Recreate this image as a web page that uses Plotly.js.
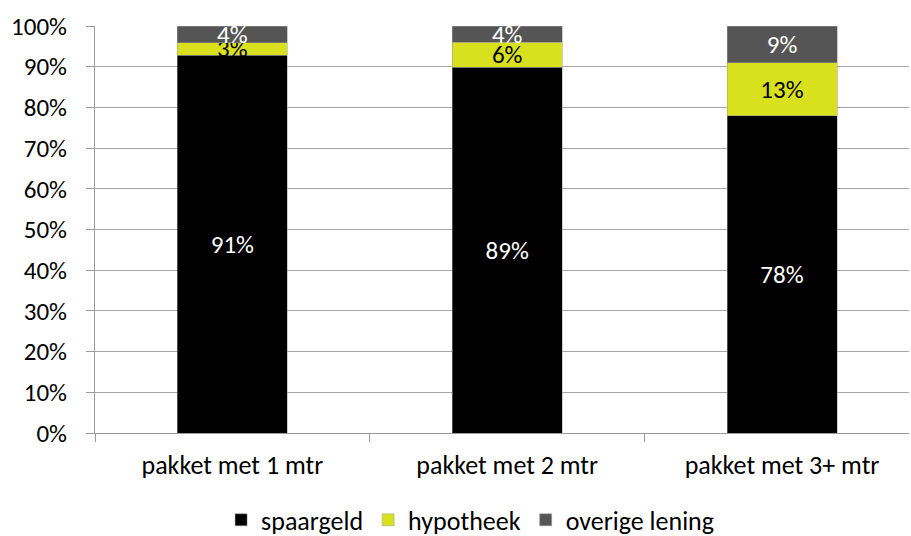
<!DOCTYPE html>
<html>
<head>
<meta charset="utf-8">
<script src="https://cdn.plot.ly/plotly-3.0.1.min.js"></script>
<style>html,body{margin:0;padding:0;background:#fff;}#chart{width:911px;height:536px;}</style>
</head>
<body>
<div id="chart"></div>
<script>
var categories = ["pakket met 1 mtr", "pakket met 2 mtr", "pakket met 3+ mtr"];
var spaargeld = [91, 89, 78];
var hypotheek = [3, 6, 13];
var overigeLening = [4, 4, 9];
var seriesNames = ["spaargeld", "hypotheek", "overige lening"];
var yTickVals = [0, 10, 20, 30, 40, 50, 60, 70, 80, 90, 100];
var yTickText = ["0%", "10%", "20%", "30%", "40%", "50%", "60%", "70%", "80%", "90%", "100%"];

var FONT = "Carlito, Lato, 'Open Sans', sans-serif";
function pct(a){ return a.map(function(v){ return v + "%"; }); }

function mk(name, vals, color, textColor){
  return {
    type: "bar", name: name, x: categories, y: vals,
    text: pct(vals), texttemplate: "%{text}",
    textposition: "inside", insidetextanchor: "middle", textangle: 0,
    constraintext: "none", cliponaxis: false,
    textfont: {family: FONT, size: 25, color: textColor},
    marker: {color: color, line: {color: "#9a9a9a", width: 0.5}},
    hoverinfo: "x+name+text"
  };
}

var data = [
  mk(seriesNames[0], spaargeld, "#000000", "#ffffff"),
  mk(seriesNames[1], hypotheek, "#d9e11f", "#000000"),
  mk(seriesNames[2], overigeLening, "#555555", "#ffffff")
];

var layout = {
  width: 911, height: 536,
  margin: {l: 95, r: 2, t: 26, b: 103},
  barmode: "stack", barnorm: "percent", bargap: 0.6,
  paper_bgcolor: "#ffffff", plot_bgcolor: "#ffffff",
  font: {family: FONT, size: 25, color: "#000000"},
  showlegend: true,
  legend: {orientation: "h", xref: "container", yref: "container",
           x: 0.516, xanchor: "center", y: 0.03, yanchor: "middle",
           font: {family: FONT, size: 26, color: "#000"}, traceorder: "normal",
           itemwidth: 30, tracegroupgap: 0},
  xaxis: {range: [-0.5, 2.462], showgrid: false, showline: true, linecolor: "#9a9a9a", linewidth: 1,
          ticks: "outside", tickson: "boundaries", ticklen: 8, tickcolor: "#9a9a9a",
          ticklabelstandoff: 9,
          tickfont: {family: FONT, size: 26, color: "#000"}, fixedrange: true},
  yaxis: {range: [0, 100.01], tickmode: "array", tickvals: yTickVals, ticktext: yTickText,
          showgrid: true, gridcolor: "#a6a6a6", gridwidth: 1,
          showline: true, linecolor: "#9a9a9a", linewidth: 1, ticks: "outside", ticklen: 8, tickcolor: "#9a9a9a",
          ticklabelstandoff: 14,
          tickfont: {family: FONT, size: 25, color: "#000"}, zeroline: false, fixedrange: true}
};

Plotly.newPlot("chart", data, layout, {displayModeBar: false, staticPlot: true});
</script>
</body>
</html>
